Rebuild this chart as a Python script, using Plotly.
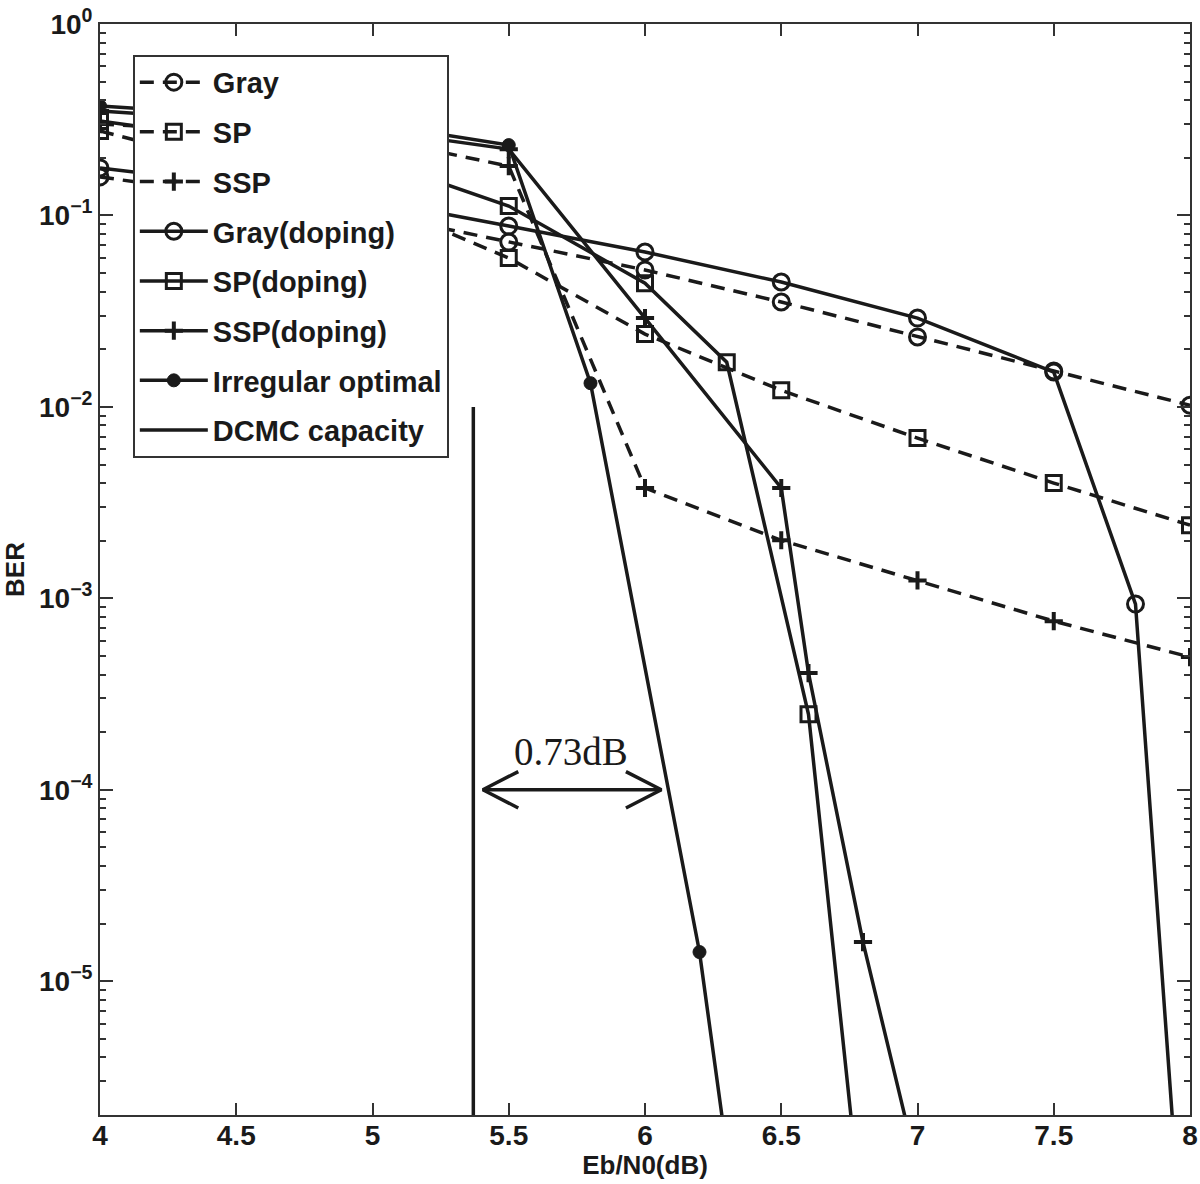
import math
import plotly.graph_objects as go

# ---------------- data ----------------
x_grid = [4, 4.5, 5, 5.5, 6, 6.5, 7, 7.5, 8]

ber_gray = [0.159, 0.126, 0.102, 0.0726, 0.0519, 0.0353, 0.0232, 0.0154, 0.0102]
ber_sp = [0.276, 0.181, 0.120, 0.0599, 0.0240, 0.0122, 0.00687, 0.00400, 0.00241]
ber_ssp = [0.300, 0.276, 0.254, 0.181, 0.00377, 0.00201, 0.00124, 0.00076, 0.000493]

x_gray_dop = [4, 4.5, 5, 5.5, 6, 6.5, 7, 7.5, 7.8, 8]
ber_gray_dop = [0.177, 0.146, 0.120, 0.0880, 0.0644, 0.0449, 0.0291, 0.0152, 0.000933, 1.0e-7]

x_sp_dop = [4, 4.5, 5, 5.5, 6, 6.3, 6.6, 6.8]
ber_sp_dop = [0.311, 0.248, 0.197, 0.112, 0.0443, 0.0171, 0.000248, 5.0e-7]

x_ssp_dop = [4, 4.5, 5, 5.5, 6, 6.5, 6.6, 6.8, 7.0]
ber_ssp_dop = [0.351, 0.315, 0.279, 0.222, 0.0291, 0.00377, 0.000407, 1.6e-5, 1.05e-6]

x_irr = [4, 4.5, 5, 5.5, 5.8, 6.2, 6.3]
ber_irr = [0.373, 0.335, 0.302, 0.233, 0.0133, 1.42e-5, 1.3e-6]

dcmc_x = 5.37          # DCMC capacity limit (dB)
dcmc_top = 1e-2
gap_db = 0.73          # annotated gap
gap_label = "0.73dB"

y_tick_vals = [1, 1e-1, 1e-2, 1e-3, 1e-4, 1e-5]
y_tick_text = ["10<sup>0</sup>", "10<sup>\u22121</sup>", "10<sup>\u22122</sup>",
               "10<sup>\u22123</sup>", "10<sup>\u22124</sup>", "10<sup>\u22125</sup>"]
x_tick_vals = [4, 4.5, 5, 5.5, 6, 6.5, 7, 7.5, 8]
x_tick_text = ["4", "4.5", "5", "5.5", "6", "6.5", "7", "7.5", "8"]

y_min, y_max = 2e-6, 1.0
x_min, x_max = 4, 8

# ---------------- styling ----------------
BLACK = "#1a1a1a"
LW = 3.5
DASH = "14px,9px"
FONT = "Liberation Sans"

fig = go.Figure()


def add(name, xs, ys, dash, symbol, msize, filled=False, mlw=3):
    fig.add_trace(go.Scatter(
        x=xs, y=ys, name=name, mode="lines+markers",
        line=dict(color=BLACK, width=LW, dash=dash),
        marker=dict(symbol=symbol, size=msize, color=BLACK,
                    line=dict(color=BLACK, width=mlw)),
        legendgroup=name,
    ))


add("Gray", x_grid, ber_gray, DASH, "circle-open", 16)
add("SP", x_grid, ber_sp, DASH, "square-open", 15)
add("SSP", x_grid, ber_ssp, DASH, "cross-thin-open", 13, mlw=4)
add("Gray(doping)", x_gray_dop, ber_gray_dop, "solid", "circle-open", 16)
add("SP(doping)", x_sp_dop, ber_sp_dop, "solid", "square-open", 15)
add("SSP(doping)", x_ssp_dop, ber_ssp_dop, "solid", "cross-thin-open", 13, mlw=4)
add("Irregular optimal", x_irr, ber_irr, "solid", "circle", 13, filled=True, mlw=1)

fig.add_trace(go.Scatter(
    x=[dcmc_x, dcmc_x], y=[dcmc_top, y_min], name="DCMC capacity", mode="lines",
    line=dict(color=BLACK, width=LW), legendgroup="DCMC capacity",
))

# ---------------- double arrow for the gap ----------------
arrow_y = 1e-4
ax0 = dcmc_x + 0.035
ax1 = dcmc_x + gap_db - 0.04
head_dx = 0.13
head_fy = 10 ** 0.095
arr_x = [ax0, ax1, None,
         ax0 + head_dx, ax0, ax0 + head_dx, None,
         ax1 - head_dx, ax1, ax1 - head_dx]
arr_y = [arrow_y, arrow_y, None,
         arrow_y * head_fy, arrow_y, arrow_y / head_fy, None,
         arrow_y * head_fy, arrow_y, arrow_y / head_fy]
fig.add_trace(go.Scatter(x=arr_x, y=arr_y, mode="lines", showlegend=False,
                         line=dict(color=BLACK, width=3.5), hoverinfo="skip"))

fig.add_annotation(
    x=(ax0 + ax1) / 2 - 0.005, y=math.log10(arrow_y) + 0.2, xref="x", yref="y",
    text=gap_label, showarrow=False, yanchor="middle",
    font=dict(family="Liberation Serif", size=39, color=BLACK),
)

axis_common = dict(
    showline=True, linecolor="#333333", linewidth=1.8, mirror="allticks",
    ticks="inside", tickcolor="#333333", tickwidth=1.5,
    showgrid=False, zeroline=False, automargin=False, ticklabeloverflow="allow",
    tickfont=dict(family=FONT, size=28, color=BLACK, weight="bold"),
)

fig.update_xaxes(
    range=[x_min, x_max], tickvals=x_tick_vals, ticktext=x_tick_text, ticklen=12,
    ticklabelstandoff=-6,
    title=dict(text="Eb/N0(dB)", font=dict(family=FONT, size=26, color=BLACK, weight="bold"),
               standoff=0),
    **axis_common,
)
fig.update_yaxes(
    type="log", range=[math.log10(y_min), math.log10(y_max)],
    tickvals=y_tick_vals, ticktext=y_tick_text, ticklen=13,
    minor=dict(ticks="inside", ticklen=6, tickcolor="#333333", tickwidth=1.5, dtick="D1",
               showgrid=False),
    title=dict(text="BER", font=dict(family=FONT, size=26, color=BLACK, weight="bold"),
               standoff=14),
    **axis_common,
)

fig.update_layout(
    width=1200, height=1184,
    margin=dict(l=100, r=10, t=24, b=69),
    paper_bgcolor="white", plot_bgcolor="white",
    showlegend=True,
    legend=dict(
        x=0.0303, y=0.9716, xanchor="left", yanchor="top",
        bgcolor="white", bordercolor="#333333", borderwidth=1.8,
        font=dict(family=FONT, size=29, color=BLACK, weight="bold"),
        traceorder="grouped", tracegroupgap=9, itemwidth=68,
    ),
)

# remove the default 8px page margin so the figure sits at the window's top-left corner
fig.write_html("out.html",
               config={"displayModeBar": False},
               post_script="document.body.style.margin='0px';document.body.style.overflow='hidden';")
